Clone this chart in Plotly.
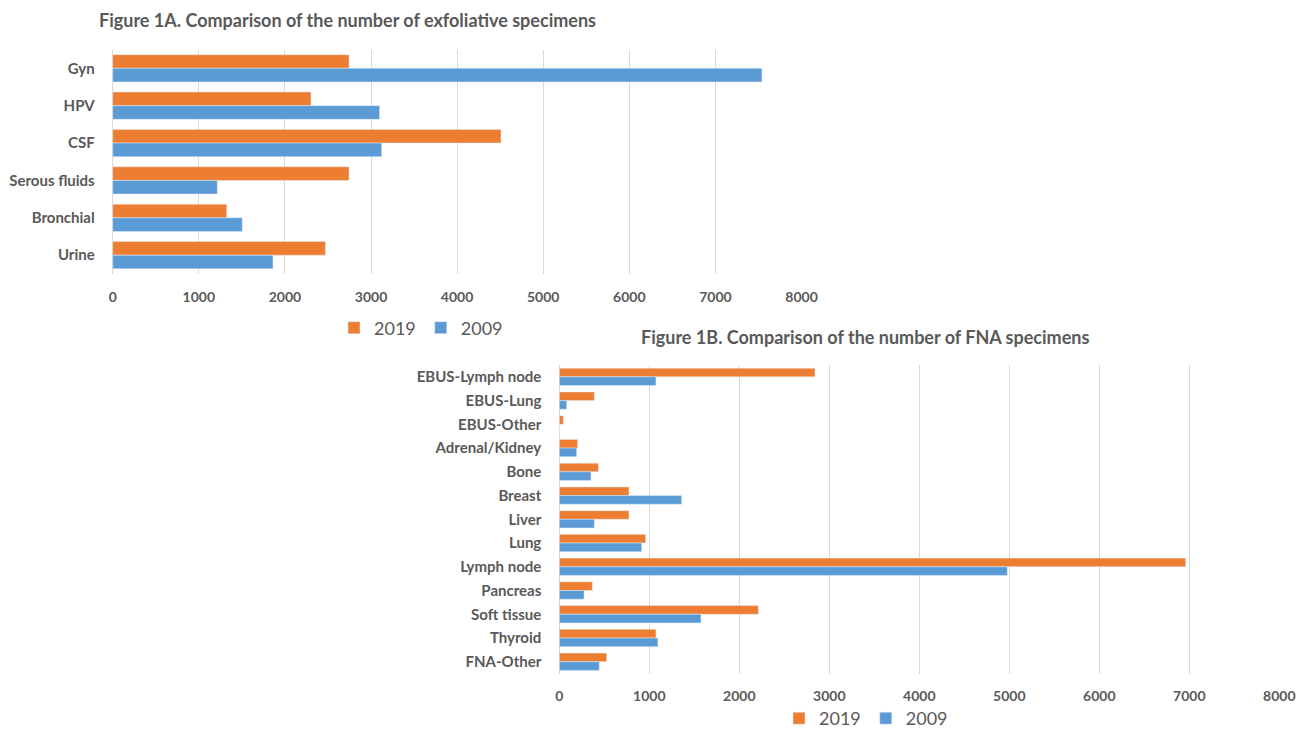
import plotly.graph_objects as go

# Figure 1A data
cats_a = ["Gyn", "HPV", "CSF", "Serous fluids", "Bronchial", "Urine"]
a_2019 = [2745, 2303, 4510, 2745, 1324, 2470]
a_2009 = [7541, 3100, 3124, 1215, 1505, 1862]

# Figure 1B data
cats_b = ["EBUS-Lymph node", "EBUS-Lung", "EBUS-Other", "Adrenal/Kidney", "Bone", "Breast",
          "Liver", "Lung", "Lymph node", "Pancreas", "Soft tissue", "Thyroid", "FNA-Other"]
b_2019 = [2841, 389, 45, 204, 434, 774, 774, 960, 6960, 367, 2211, 1074, 526]
b_2009 = [1074, 82, 0, 193, 352, 1360, 389, 915, 4978, 275, 1574, 1096, 444]

x_ticks = [0, 1000, 2000, 3000, 4000, 5000, 6000, 7000, 8000]

ORANGE = "#ED7D31"
BLUE = "#5B9BD5"
GRID = "#D9D9D9"
TXT = "#595959"
FONT = "Lato"

fig = go.Figure()
fig.add_trace(go.Bar(y=cats_a, x=a_2019, orientation="h", name="2019", marker_color=ORANGE,
                     xaxis="x", yaxis="y", legend="legend"))
fig.add_trace(go.Bar(y=cats_a, x=a_2009, orientation="h", name="2009", marker_color=BLUE,
                     xaxis="x", yaxis="y", legend="legend"))
fig.add_trace(go.Bar(y=cats_b, x=b_2019, orientation="h", name="2019", marker_color=ORANGE,
                     xaxis="x2", yaxis="y2", legend="legend2"))
fig.add_trace(go.Bar(y=cats_b, x=b_2009, orientation="h", name="2009", marker_color=BLUE,
                     xaxis="x2", yaxis="y2", legend="legend2"))

W, H = 1309, 737
def px_x(v):
    return v / W
def px_y(v):
    return 1 - v / H

xcommon = dict(range=[0, 8000], tickvals=x_ticks, showgrid=True, gridcolor=GRID, gridwidth=1,
               zeroline=True, zerolinecolor=GRID, zerolinewidth=1, showline=False,
               ticks="outside", ticklen=10, tickcolor="rgba(0,0,0,0)", automargin=False,
               tickfont=dict(family=FONT, size=14, color=TXT, weight="bold"), fixedrange=True)
ycommon = dict(autorange="reversed", type="category", showgrid=False, zeroline=False, showline=False,
               ticks="outside", ticklen=14, tickcolor="rgba(0,0,0,0)", automargin=False,
               tickfont=dict(family=FONT, size=15, color=TXT, weight="bold"))

fig.update_layout(
    width=W, height=H,
    margin=dict(l=0, r=0, t=0, b=0),
    paper_bgcolor="white", plot_bgcolor="white",
    barmode="group", bargap=0.27,
    xaxis=dict(domain=[px_x(112.7), px_x(801.5)], anchor="y", **xcommon),
    yaxis=dict(domain=[px_y(273.9), px_y(49.6)], anchor="x", **ycommon),
    xaxis2=dict(domain=[px_x(559.3), px_x(1279.3)], anchor="y2", **xcommon),
    yaxis2=dict(domain=[px_y(673.6), px_y(365)], anchor="x2", **ycommon),
    legend=dict(orientation="h", x=px_x(421), y=px_y(328), xanchor="center", yanchor="middle",
                font=dict(family=FONT, size=18, color=TXT), itemwidth=30, traceorder="normal",
                bgcolor="rgba(0,0,0,0)"),
    legend2=dict(orientation="h", x=px_x(866), y=0, xanchor="center", yanchor="bottom",
                 font=dict(family=FONT, size=18, color=TXT), itemwidth=30, traceorder="normal",
                 bgcolor="rgba(0,0,0,0)"),
    annotations=[
        dict(text="Figure 1A. Comparison of the number of exfoliative specimens", xref="paper", yref="paper",
             x=px_x(97), y=px_y(20), xanchor="left", yanchor="middle", showarrow=False,
             font=dict(family=FONT, size=18, color=TXT, weight="bold")),
        dict(text="Figure 1B. Comparison of the number of FNA specimens", xref="paper", yref="paper",
             x=px_x(639), y=px_y(337), xanchor="left", yanchor="middle", showarrow=False,
             font=dict(family=FONT, size=18, color=TXT, weight="bold")),
    ],
    showlegend=True,
)

fig.write_html("out.html")
